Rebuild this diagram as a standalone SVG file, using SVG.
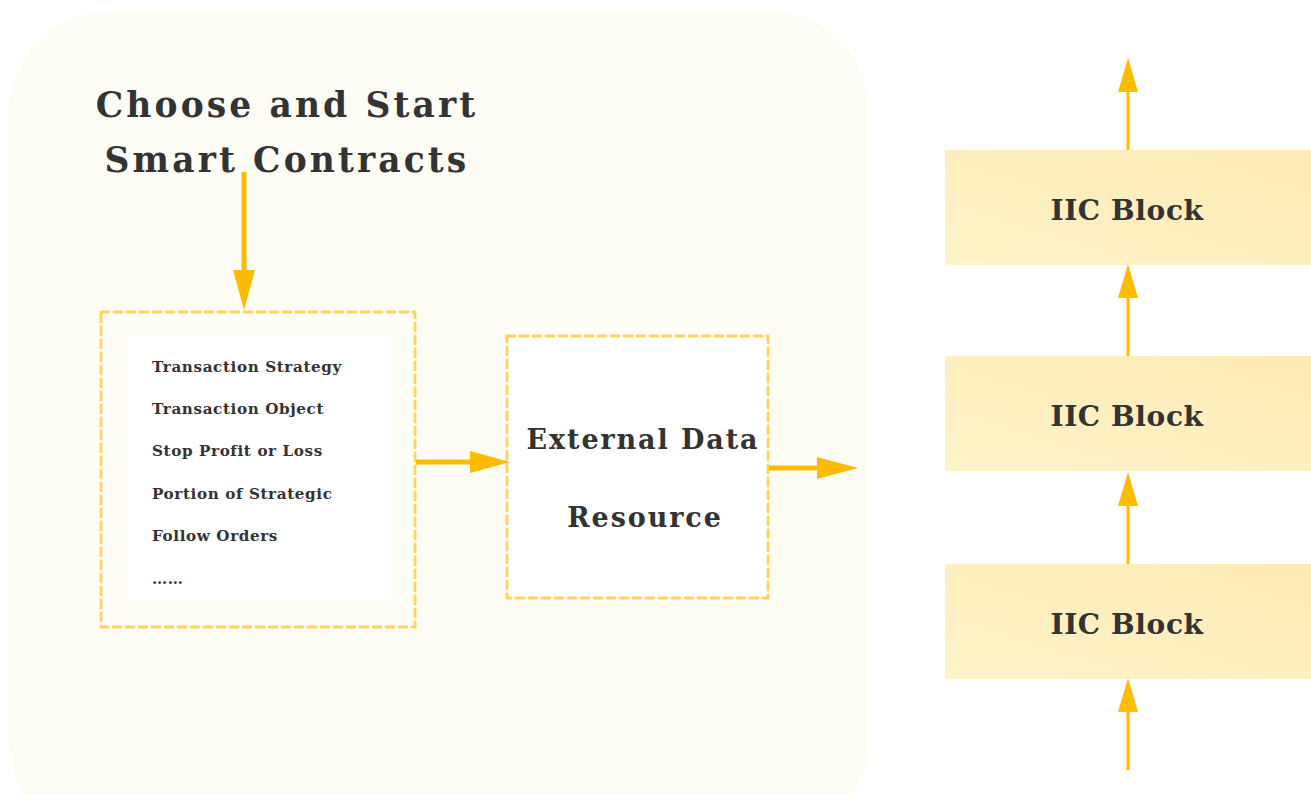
<svg xmlns="http://www.w3.org/2000/svg" width="1311" height="794" viewBox="0 0 1311 794">
<defs>
<linearGradient id="blk" x1="0" y1="1" x2="1" y2="0">
<stop offset="0" stop-color="#fff3c9"/>
<stop offset="1" stop-color="#feeab4"/>
</linearGradient>
<style>
.t{font-family:"DejaVu Serif","Liberation Serif",serif;font-weight:bold;fill:#333333}
.title{font-size:34.5px;letter-spacing:3.1px}
.item{font-size:15.2px;letter-spacing:0.6px}
.ext{font-size:27px;letter-spacing:1.9px}
.blk{font-size:28px;letter-spacing:0.6px}
.dash{fill:#ffffff;stroke:#ffd35c;stroke-width:2.8;stroke-dasharray:8 5;stroke-linecap:round}
.ln{stroke:#ffbb00;fill:none}
.hd{fill:#ffbb00}
</style>
</defs>
<rect x="0" y="0" width="1311" height="794" fill="#ffffff"/>
<rect x="9" y="11" width="860" height="830" rx="100" ry="100" fill="#fdfdf6"/>
<g id="title">
<text class="t title" x="287" y="117" text-anchor="middle">Choose and Start</text>
<text class="t title" x="287" y="172" text-anchor="middle">Smart Contracts</text>
</g>
<g id="list">
<rect class="dash" x="101" y="312" width="314" height="315" fill-opacity="0"/>
<rect x="128" y="336" width="263" height="263" fill="#ffffff"/>
<text class="t item" x="152" y="372">Transaction Strategy</text>
<text class="t item" x="152" y="414">Transaction Object</text>
<text class="t item" x="152" y="456">Stop Profit or Loss</text>
<text class="t item" x="152" y="499">Portion of Strategic</text>
<text class="t item" x="152" y="541">Follow Orders</text>
<text class="t item" x="152" y="584">……</text>
</g>
<g id="external">
<rect class="dash" x="507" y="336" width="261" height="262"/>
<text class="t ext" x="643" y="449" text-anchor="middle">External Data</text>
<text class="t ext" x="645" y="527" text-anchor="middle">Resource</text>
</g>
<g id="block1">
<rect x="945" y="150" width="366" height="115" fill="url(#blk)"/>
<text class="t blk" x="1127" y="220" text-anchor="middle">IIC Block</text>
</g>
<g id="block2">
<rect x="945" y="356" width="366" height="115" fill="url(#blk)"/>
<text class="t blk" x="1127" y="426" text-anchor="middle">IIC Block</text>
</g>
<g id="block3">
<rect x="945" y="564" width="366" height="115" fill="url(#blk)"/>
<text class="t blk" x="1127" y="634" text-anchor="middle">IIC Block</text>
</g>
<g id="connectors">
<line class="ln" x1="244" y1="172" x2="244" y2="275" stroke-width="5"/>
<polygon class="hd" points="233,270 255,270 244,310"/>
<line class="ln" x1="416" y1="462" x2="475" y2="462" stroke-width="5"/>
<polygon class="hd" points="470,451 470,473 510,462"/>
<line class="ln" x1="769" y1="468" x2="822" y2="468" stroke-width="5"/>
<polygon class="hd" points="817,457 817,479 858,468"/>
<line class="ln" x1="1128" y1="770" x2="1128" y2="708" stroke-width="3"/>
<polygon class="hd" points="1118,712 1138,712 1128,678"/>
<line class="ln" x1="1128" y1="564" x2="1128" y2="502" stroke-width="3"/>
<polygon class="hd" points="1118,506 1138,506 1128,472"/>
<line class="ln" x1="1128" y1="356" x2="1128" y2="294" stroke-width="3"/>
<polygon class="hd" points="1118,298 1138,298 1128,264"/>
<line class="ln" x1="1128" y1="150" x2="1128" y2="88" stroke-width="3"/>
<polygon class="hd" points="1118,92 1138,92 1128,58"/>
</g>
</svg>
